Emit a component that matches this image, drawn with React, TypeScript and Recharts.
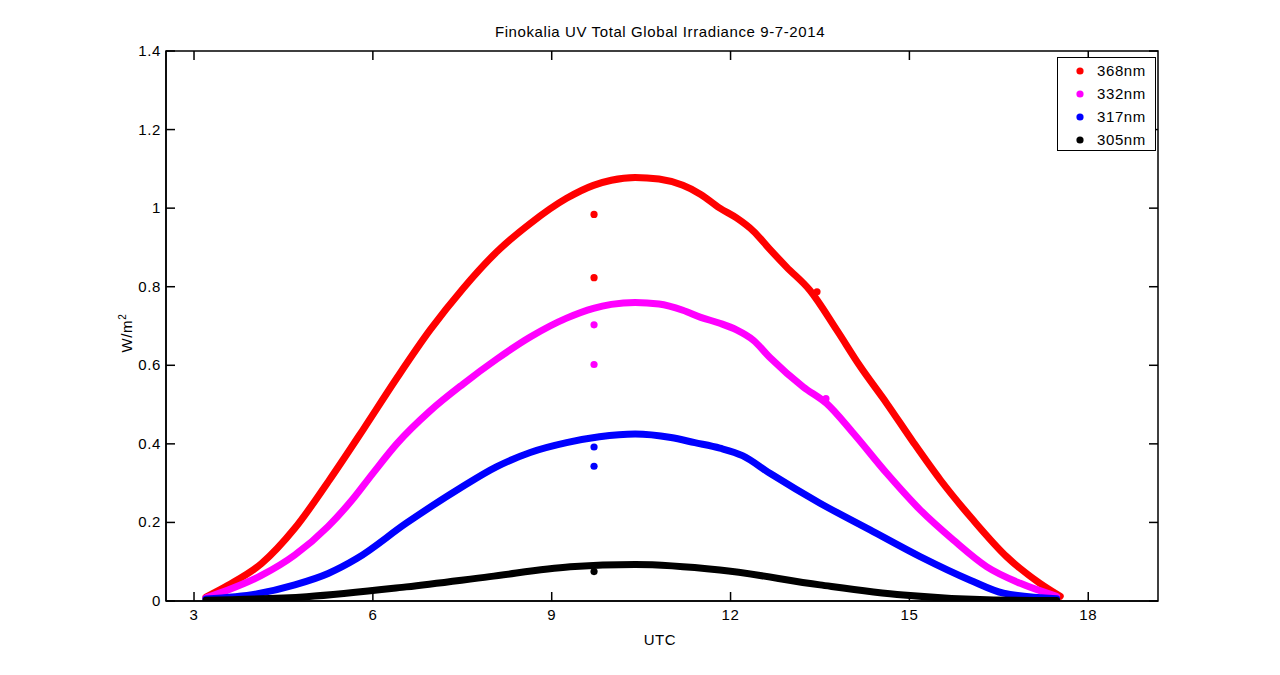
import React from "react";
import {
  ComposedChart,
  Line,
  Scatter,
  XAxis,
  YAxis,
  Legend,
  ReferenceArea,
  Customized,
} from "recharts";

// Finokalia UV total global irradiance, 9-7-2014

type Pt = { x: number; y: number };
const pts = (rows: number[][]): Pt[] => rows.map(([x, y]) => ({ x, y }));

const red368 = pts([
  [3.2, 0.01], [3.57, 0.04], [4.13, 0.095], [4.69, 0.185], [5.28, 0.31],
  [5.84, 0.437], [6.4, 0.567], [6.96, 0.69], [7.51, 0.795], [8.08, 0.889],
  [8.64, 0.961], [9.25, 1.025], [9.7, 1.058], [10.0, 1.071], [10.4, 1.078],
  [10.8, 1.074], [11.2, 1.058], [11.5, 1.035], [11.82, 1.0], [12.1, 0.975],
  [12.38, 0.942], [12.66, 0.895], [12.94, 0.85], [13.33, 0.791], [13.78, 0.69],
  [14.17, 0.598], [14.62, 0.503], [15.07, 0.403], [15.52, 0.308], [16.07, 0.206],
  [16.63, 0.113], [17.19, 0.045], [17.53, 0.012],
]);

const magenta332 = pts([
  [3.2, 0.008], [3.57, 0.028], [4.13, 0.065], [4.69, 0.117], [5.25, 0.19],
  [5.64, 0.255], [6.0, 0.325], [6.4, 0.4], [6.96, 0.484], [7.51, 0.552],
  [8.08, 0.616], [8.64, 0.672], [9.25, 0.72], [9.7, 0.745], [10.0, 0.755],
  [10.4, 0.76], [10.8, 0.756], [11.2, 0.74], [11.5, 0.722], [11.82, 0.707],
  [12.1, 0.69], [12.38, 0.664], [12.66, 0.62], [13.22, 0.545], [13.61, 0.503],
  [14.06, 0.427], [14.62, 0.325], [15.18, 0.232], [15.74, 0.155], [16.3, 0.087],
  [16.86, 0.045], [17.47, 0.012],
]);

const blue317 = pts([
  [3.2, 0.005], [4.05, 0.018], [4.69, 0.041], [5.25, 0.07], [5.73, 0.108],
  [6.56, 0.198], [7.46, 0.287], [8.08, 0.342], [8.64, 0.378], [9.25, 0.403],
  [9.8, 0.418], [10.4, 0.425], [11.0, 0.416], [11.4, 0.403], [11.82, 0.389],
  [12.2, 0.37], [12.66, 0.325], [13.5, 0.249], [14.34, 0.181], [15.18, 0.113],
  [16.02, 0.053], [16.58, 0.02], [17.47, 0.006],
]);

const black305 = pts([
  [3.2, 0.002], [4.89, 0.011], [6.56, 0.036], [7.96, 0.062], [9.31, 0.087],
  [10.4, 0.093], [11.82, 0.079], [13.5, 0.041], [14.9, 0.015], [16.3, 0.003],
  [17.47, 0.001],
]);

// stray samples off the main curves
const redOut = pts([[9.71, 0.984], [9.71, 0.823], [13.45, 0.787]]);
const magentaOut = pts([[9.71, 0.703], [9.71, 0.602], [13.6, 0.515]]);
const blueOut = pts([[9.71, 0.392], [9.71, 0.343]]);
const blackOut = pts([[9.71, 0.075]]);

const xTicks = [3, 6, 9, 12, 15, 18];
const yTicks = [0, 0.2, 0.4, 0.6, 0.8, 1, 1.2, 1.4];

const series = [
  { name: "368nm", color: "#ff0000", data: red368, out: redOut },
  { name: "332nm", color: "#ff00ff", data: magenta332, out: magentaOut },
  { name: "317nm", color: "#0000ff", data: blue317, out: blueOut },
  { name: "305nm", color: "#000000", data: black305, out: blackOut },
];

// layout (pixels)
const W = 1280;
const H = 675;
const PLOT_LEFT = 166;
const PLOT_RIGHT = 1158;
const PLOT_TOP = 51;
const PLOT_BOTTOM = 601;
const TICK = 9;
const AXIS_W = 60;
const AXIS_H = 30;
const FONT = "'Liberation Sans', Arial, Helvetica, sans-serif";
const FS = 15;
const LS = 0.6;
const XMIN = 2.53;
const XMAX = 19.17;

function XTick(props: any) {
  const { x, payload } = props;
  return (
    <g>
      <line x1={x} x2={x} y1={PLOT_BOTTOM} y2={PLOT_BOTTOM - TICK} stroke="#000" strokeWidth={1.5} />
      <line x1={x} x2={x} y1={PLOT_TOP} y2={PLOT_TOP + TICK} stroke="#000" strokeWidth={1.5} />
      <text x={x} y={620} textAnchor="middle" fontSize={FS} letterSpacing={LS} fontFamily={FONT} fill="#000">
        {payload.value}
      </text>
    </g>
  );
}

function YTick(props: any) {
  const { y, payload } = props;
  return (
    <g>
      <line x1={PLOT_LEFT} x2={PLOT_LEFT + TICK} y1={y} y2={y} stroke="#000" strokeWidth={1.5} />
      <line x1={PLOT_RIGHT} x2={PLOT_RIGHT - TICK} y1={y} y2={y} stroke="#000" strokeWidth={1.5} />
      <text x={161} y={y + 5} textAnchor="end" fontSize={FS} letterSpacing={LS} fontFamily={FONT} fill="#000">
        {payload.value}
      </text>
    </g>
  );
}

function Dot(color: string) {
  return (p: any) => <circle cx={p.cx} cy={p.cy} r={3.6} fill={color} />;
}

function LegendBox() {
  return (
    <div
      style={{
        width: 99,
        height: 94,
        border: "1.5px solid #000",
        background: "#fff",
        fontFamily: FONT,
        fontSize: FS,
        letterSpacing: LS,
        lineHeight: "23px",
        boxSizing: "border-box",
        paddingTop: 1,
      }}
    >
      {series.map((s) => (
        <div key={s.name} style={{ display: "flex", alignItems: "center", height: 23 }}>
          <svg width={39} height={12} style={{ flex: "none" }}>
            <circle cx={22} cy={6} r={3.6} fill={s.color} />
          </svg>
          <span style={{ whiteSpace: "nowrap" }}>{s.name}</span>
        </div>
      ))}
    </div>
  );
}

export default function App() {
  return (
    <div style={{ position: "absolute", left: 0, top: 0, background: "#fff" }}>
      <ComposedChart
        width={W}
        height={H}
        margin={{
          top: PLOT_TOP,
          right: W - PLOT_RIGHT,
          left: PLOT_LEFT - AXIS_W,
          bottom: H - PLOT_BOTTOM - AXIS_H,
        }}
      >
        <XAxis
          type="number"
          dataKey="x"
          domain={[XMIN, XMAX]}
          ticks={xTicks}
          allowDataOverflow
          height={AXIS_H}
          tickSize={0}
          tick={<XTick />}
          axisLine={{ stroke: "#000", strokeWidth: 1.5 }}
          label={{
            content: () => (
              <text x={660} y={645} textAnchor="middle" fontSize={FS} letterSpacing={LS} fontFamily={FONT} fill="#000">
                UTC
              </text>
            ),
          }}
        />
        <YAxis
          type="number"
          dataKey="y"
          domain={[0, 1.4]}
          ticks={yTicks}
          allowDataOverflow
          width={AXIS_W}
          tickSize={0}
          tick={<YTick />}
          axisLine={{ stroke: "#000", strokeWidth: 1.5 }}
          label={{
            content: () => (
              <text
                x={132}
                y={333}
                transform="rotate(-90 132 333)"
                textAnchor="middle"
                fontSize={FS}
                letterSpacing={LS}
                fontFamily={FONT}
                fill="#000"
              >
                W/m
                <tspan dy={-6} fontSize={10}>2</tspan>
              </text>
            ),
          }}
        />
        <ReferenceArea
          x1={XMIN}
          x2={XMAX}
          y1={0}
          y2={1.4}
          fill="none"
          stroke="#000"
          strokeWidth={1.5}
          ifOverflow="visible"
        />
        {series.map((s) => (
          <Line
            key={s.name}
            name={s.name}
            data={s.data}
            dataKey="y"
            type="monotone"
            stroke={s.color}
            strokeWidth={7}
            strokeLinecap="round"
            dot={false}
            activeDot={false}
            isAnimationActive={false}
          />
        ))}
        {series.map((s) => (
          <Scatter
            key={s.name + "-out"}
            name={s.name + " stray"}
            data={s.out}
            dataKey="y"
            fill={s.color}
            shape={Dot(s.color)}
            legendType="none"
            isAnimationActive={false}
          />
        ))}
        <Customized
          component={() => (
            <text x={660} y={37} textAnchor="middle" fontSize={FS} letterSpacing={LS} fontFamily={FONT} fill="#000">
              Finokalia UV Total Global Irradiance 9-7-2014
            </text>
          )}
        />
        <Legend
          layout="vertical"
          align="center"
          verticalAlign="middle"
          content={() => <LegendBox />}
          wrapperStyle={{ left: 1057, top: 57, width: 99, height: 94 }}
        />
      </ComposedChart>
    </div>
  );
}
